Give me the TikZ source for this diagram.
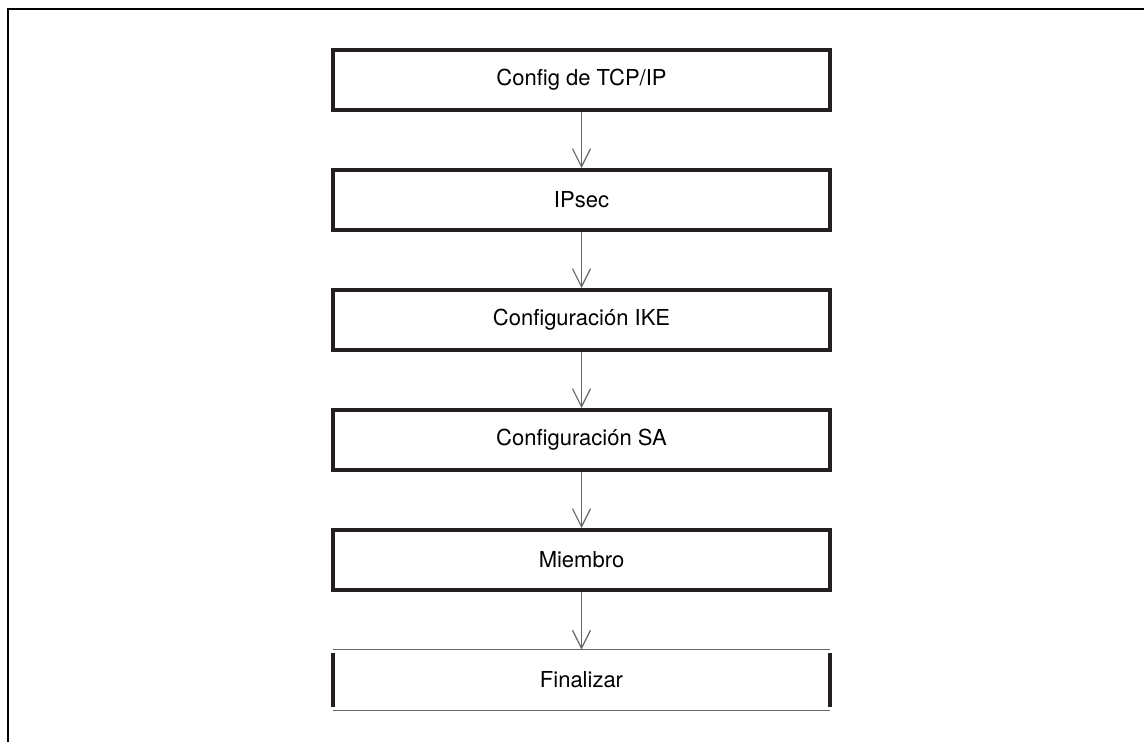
\documentclass[tikz,border=0pt]{standalone}
\usepackage{fontspec}
\setmainfont{TeX Gyre Heros}
\usetikzlibrary{positioning,arrows.meta}
\definecolor{boxline}{HTML}{231F20}
\definecolor{arrline}{HTML}{666666}
\tikzset{
  frame/.style={line width=1pt,black},
  stepbox/.style={draw=boxline,line width=2pt,rectangle,minimum width=248.5pt,minimum height=30pt,
    align=center,font=\fontsize{11}{13}\selectfont},
  openbox/.style={rectangle,minimum width=248.5pt,minimum height=30pt,align=center,
    font=\fontsize{11}{13}\selectfont},
  sideline/.style={draw=boxline,line width=2pt},
  thinline/.style={draw=arrline,line width=0.6pt},
  flow/.style={-{Straight Barb[length=9pt,width=9pt]},line width=0.6pt,arrline},
}
\begin{document}
\begin{tikzpicture}[x=0.5pt,y=-0.5pt]
\useasboundingbox (0,0) rectangle (1144,742);
% page frame
\draw[frame] (8,742) -- (8,9) -- (1144,9);
% menu steps
\node[stepbox] (tcp) at (581.5,80) {Config de TCP/IP};
\node[stepbox] (ips) at (581.5,200) {IPsec};
\node[stepbox] (ike) at (581.5,320) {Configuración IKE};
\node[stepbox] (sa)  at (581.5,440) {Configuración SA};
\node[stepbox] (mem) at (581.5,560) {Miembro};
\node[openbox] (fin) at (581.5,680) {Finalizar};
% last box: thin top and bottom, thick sides
\draw[thinline] (fin.north west) -- (fin.north east);
\draw[thinline] (fin.south west) -- (fin.south east);
\draw[sideline] ([yshift=-1.5pt]fin.north west) -- ([yshift=1.5pt]fin.south west);
\draw[sideline] ([yshift=-1.5pt]fin.north east) -- ([yshift=1.5pt]fin.south east);
% arrows
\draw[flow] (tcp.south) -- (ips.north);
\draw[flow] (ips.south) -- (ike.north);
\draw[flow] (ike.south) -- (sa.north);
\draw[flow] (sa.south) -- (mem.north);
\draw[flow] (mem.south) -- (fin.north);
\end{tikzpicture}
\end{document}
